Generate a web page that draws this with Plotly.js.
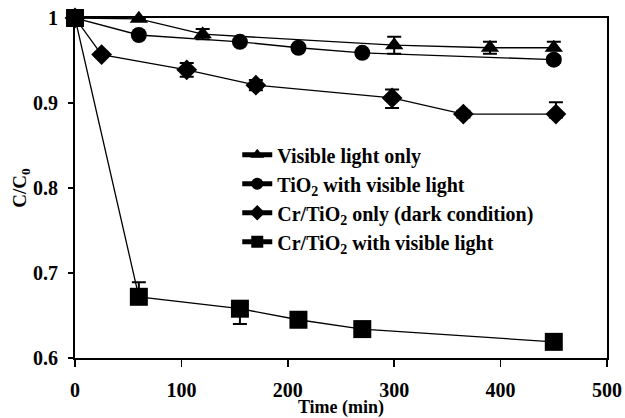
<!DOCTYPE html>
<html>
<head>
<meta charset="utf-8">
<script src="https://cdn.plot.ly/plotly-3.0.1.min.js"></script>
<style>
  html, body { margin: 0; padding: 0; background: #fff; }
  #chart { width: 625px; height: 418px; }
</style>
</head>
<body>
<div id="chart"></div>
<script>
// Photodegradation: normalised concentration C/C0 versus irradiation time
const seriesNames = [
  "Visible light only",
  "TiO<sub>2</sub> with visible light",
  "Cr/TiO<sub>2</sub> only (dark condition)",
  "Cr/TiO<sub>2</sub> with visible light"
];

const visibleTime = [0, 60, 120, 300, 390, 450];
const visibleC = [1.0, 0.999, 0.981, 0.968, 0.965, 0.965];
const visibleErrPlus = [0, 0, 0.006, 0.010, 0.007, 0.007];
const visibleErrMinus = [0, 0, 0.006, 0.010, 0.007, 0.003];

const tio2Time = [0, 60, 155, 210, 270, 450];
const tio2C = [1.0, 0.980, 0.972, 0.965, 0.959, 0.951];
const tio2ErrPlus = [0, 0, 0, 0, 0, 0.004];
const tio2ErrMinus = [0, 0, 0, 0, 0, 0.004];

const darkTime = [0, 25, 105, 170, 298, 365, 452];
const darkC = [1.0, 0.957, 0.939, 0.921, 0.906, 0.887, 0.887];
const darkErrPlus = [0, 0.003, 0.008, 0.006, 0.010, 0.004, 0.014];
const darkErrMinus = [0, 0.003, 0.008, 0.006, 0.012, 0.004, 0.004];

const crTime = [0, 60, 155, 210, 270, 450];
const crC = [1.0, 0.672, 0.658, 0.645, 0.634, 0.619];
const crErrPlus = [0, 0.017, 0.004, 0, 0, 0];
const crErrMinus = [0, 0.004, 0.018, 0, 0, 0];

const xTickVals = [0, 100, 200, 300, 400, 500];
const yTickVals = [0.6, 0.7, 0.8, 0.9, 1.0];
const yTickText = ["0.6", "0.7", "0.8", "0.9", "1"];

function makeTrace(name, x, y, errPlus, errMinus, symbol, size) {
  return {
    type: "scatter",
    mode: "lines+markers",
    name: name,
    x: x,
    y: y,
    cliponaxis: false,
    line: { color: "#000", width: 1.3 },
    marker: { symbol: symbol, size: size, color: "#000" },
    error_y: {
      type: "data",
      symmetric: false,
      array: errPlus,
      arrayminus: errMinus,
      color: "#000",
      thickness: 2,
      width: 7
    }
  };
}

const traces = [
  makeTrace(seriesNames[0], visibleTime, visibleC, visibleErrPlus, visibleErrMinus, "triangle-up", 16),
  makeTrace(seriesNames[1], tio2Time, tio2C, tio2ErrPlus, tio2ErrMinus, "circle", 16),
  makeTrace(seriesNames[2], darkTime, darkC, darkErrPlus, darkErrMinus, "diamond", 16),
  makeTrace(seriesNames[3], crTime, crC, crErrPlus, crErrMinus, "square", 18)
];

const serif = "'Liberation Serif', 'Times New Roman', serif";

const layout = {
  width: 625,
  height: 418,
  margin: { l: 75, r: 18, t: 18, b: 60 },
  paper_bgcolor: "#fff",
  plot_bgcolor: "#fff",
  font: { family: serif, color: "#000", size: 20, weight: "bold" },
  showlegend: true,
  legend: {
    x: 0.305, y: 0.655,
    xanchor: "left", yanchor: "top",
    bgcolor: "rgba(0,0,0,0)",
    font: { family: serif, size: 20, weight: "bold", color: "#000" },
    tracegroupgap: 0,
    itemwidth: 30,
    itemsizing: "constant"
  },
  xaxis: {
    range: [0, 500],
    tickvals: xTickVals,
    ticks: "outside",
    ticklen: 7,
    tickwidth: 1.5,
    tickcolor: "#000",
    ticklabelstandoff: 6,
    showline: true,
    linewidth: 2,
    linecolor: "#000",
    mirror: true,
    showgrid: false,
    zeroline: false,
    tickfont: { family: serif, size: 20, weight: "bold" },
    title: { text: "Time (min)", font: { family: serif, size: 18, weight: "bold" }, standoff: 1 }
  },
  yaxis: {
    range: [0.6, 1.0],
    tickvals: yTickVals,
    ticktext: yTickText,
    ticks: "outside",
    ticklen: 5,
    tickwidth: 1.5,
    tickcolor: "#000",
    ticklabelstandoff: 6,
    showline: true,
    linewidth: 2,
    linecolor: "#000",
    mirror: true,
    showgrid: false,
    zeroline: false,
    tickfont: { family: serif, size: 20, weight: "bold" },
    title: { text: "C/C<sub>0</sub>", font: { family: serif, size: 19, weight: "bold" }, standoff: 1 }
  }
};

Plotly.newPlot("chart", traces, layout, { displayModeBar: false, staticPlot: true });
</script>
</body>
</html>
